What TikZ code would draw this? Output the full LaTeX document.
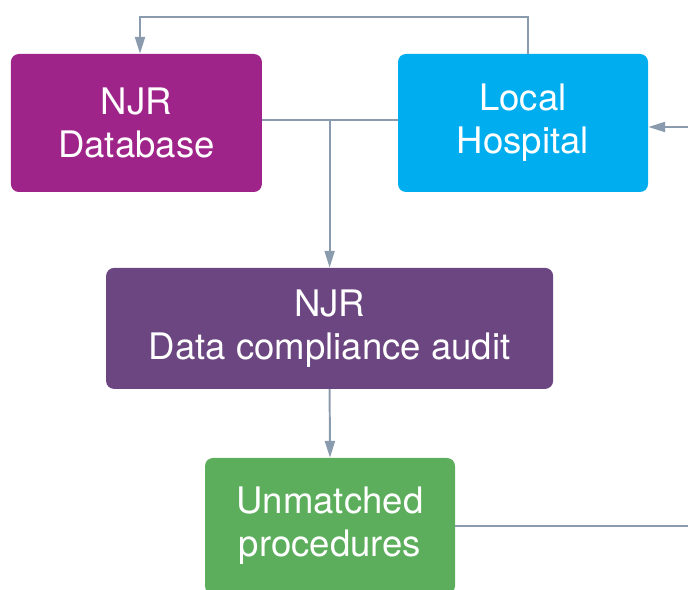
\documentclass[tikz,border=0pt]{standalone}
\usepackage{fontspec}
\setmainfont{TeX Gyre Heros}
\usetikzlibrary{arrows.meta}

\definecolor{njrmagenta}{HTML}{9E2489}
\definecolor{hospcyan}{HTML}{00AEEF}
\definecolor{auditpurple}{HTML}{6B4681}
\definecolor{unmatchgreen}{HTML}{5CAE5C}
\definecolor{linkgrey}{HTML}{8A9BAE}

\begin{document}
\begin{tikzpicture}[
      >={Triangle[length=0.42cm,width=0.25cm]},
      box/.style={
        rounded corners=0.2cm,
        text=white,
        align=center,
        inner sep=0pt,
        font=\fontsize{26}{30.6}\selectfont
      },
      link/.style={
        draw=linkgrey,
        line width=1.4pt
      },
    ]

    \clip (0, 0) rectangle (17.2, 14.75);

    \node [box, fill=njrmagenta, minimum width=6.275cm, minimum height=3.45cm]
          (db) at (3.41, 11.675) {NJR\\Database};
    \node [box, fill=hospcyan, minimum width=6.25cm, minimum height=3.45cm]
          (hosp) at (13.075, 11.675) {Local\\Hospital};
    \node [box, fill=auditpurple, minimum width=11.175cm, minimum height=3.025cm]
          (audit) at (8.24, 6.54) {NJR\\Data compliance audit};
    \node [box, fill=unmatchgreen, minimum width=6.25cm, minimum height=3.4cm]
          (unmatched) at (8.25, 1.6) {Unmatched\\procedures};

    \coordinate (hospup) at ([xshift=0.12cm]hosp.north);
    \coordinate (dbin) at ([xshift=0.09cm]db.north);
    \coordinate (hospin) at ([yshift=-0.1cm]hosp.east);
    \coordinate (top) at (0, 14.32);
    \coordinate (split) at (audit.north |- 0, 11.75);
    \coordinate (offright) at (17.6, 0);

    \draw [link, ->] (hospup) |- (top -| dbin) -- (dbin);
    \draw [link] (db.east |- split) -- (hosp.west |- split);
    \draw [link, ->] (split) -- (audit.north);
    \draw [link, ->] (audit.south) -- (unmatched.north);
    \draw [link, ->] (unmatched.east) -- (offright |- unmatched.east)
          |- (hospin);
\end{tikzpicture}
\end{document}
